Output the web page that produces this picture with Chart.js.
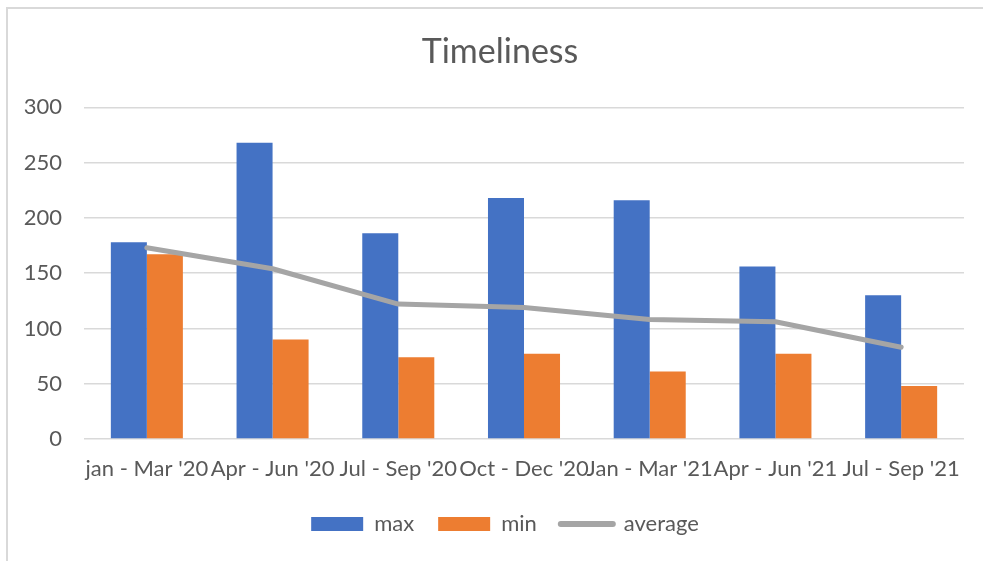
<!DOCTYPE html>
<html>
<head>
<meta charset="utf-8">
<script src="https://cdn.jsdelivr.net/npm/chart.js@4"></script>
<style>
  html, body { margin: 0; padding: 0; background: #fff; }
  #wrap { position: relative; width: 983px; height: 561px; }
</style>
</head>
<body>
<div id="wrap"><canvas id="c" width="983" height="561"></canvas></div>
<script>
const categories = ["jan - Mar '20", "Apr - Jun '20", "Jul - Sep '20", "Oct - Dec '20", "Jan - Mar '21", "Apr - Jun '21", "Jul - Sep '21"];
const maxValues = [178, 268, 186, 218, 216, 156, 130];
const minValues = [167, 90, 74, 77, 61, 77, 48];
const averageValues = [173, 154, 122, 119, 108, 106, 83];
const yTicks = [0, 50, 100, 150, 200, 250, 300];

const TEXT = '#595959';
const FONT = 'Lato, "Open Sans", sans-serif';

const framePlugin = {
  id: 'frame',
  beforeDraw(chart) {
    const ctx = chart.ctx;
    ctx.save();
    ctx.fillStyle = '#fff';
    ctx.fillRect(0, 0, chart.width, chart.height);
    ctx.strokeStyle = '#d9d9d9';
    ctx.lineWidth = 2;
    ctx.beginPath();
    ctx.moveTo(7, chart.height);
    ctx.lineTo(7, 8);
    ctx.lineTo(chart.width, 8);
    ctx.stroke();
    ctx.restore();
  }
};

// Title and legend are centred on the whole (wider, cropped) chart frame in the original
const centerShiftPlugin = {
  id: 'centerShift',
  afterLayout(chart) {
    if (chart.titleBlock) { chart.titleBlock.left = 36; }
    if (chart.legend) { chart.legend.left = 46; }
  }
};

new Chart(document.getElementById('c'), {
  data: {
    labels: categories,
    datasets: [
      { type: 'bar', label: 'max', data: maxValues, backgroundColor: '#4472C4', order: 1,
        categoryPercentage: 0.573, barPercentage: 1.0 },
      { type: 'bar', label: 'min', data: minValues, backgroundColor: '#ED7D31', order: 1,
        categoryPercentage: 0.573, barPercentage: 1.0 },
      { type: 'line', label: 'average', data: averageValues, borderColor: '#A5A5A5', backgroundColor: '#A5A5A5',
        borderWidth: 5, pointRadius: 0, borderCapStyle: 'round', borderJoinStyle: 'round', tension: 0, order: 0 }
    ]
  },
  plugins: [framePlugin, centerShiftPlugin],
  options: {
    responsive: false,
    animation: false,
    devicePixelRatio: 1,
    layout: { padding: { left: 0, right: 19, top: 0, bottom: 16 } },
    plugins: {
      tooltip: { enabled: false },
      title: {
        display: true, text: 'Timeliness', color: TEXT,
        font: { family: FONT, size: 34, weight: 'normal' },
        padding: { top: 32, bottom: 34.5 }
      },
      legend: {
        position: 'bottom',
        labels: {
          color: TEXT,
          font: { family: FONT, size: 22 },
          usePointStyle: true,
          pointStyleWidth: 52,
          boxWidth: 52,
          boxHeight: 14,
          padding: 24,
          sort: (a, b) => a.datasetIndex - b.datasetIndex,
          generateLabels(chart) {
            const items = Chart.defaults.plugins.legend.labels.generateLabels(chart);
            items.forEach(it => {
              const ds = chart.data.datasets[it.datasetIndex];
              if (ds.type === 'line') {
                it.pointStyle = 'line';
                it.lineWidth = 6;
                it.strokeStyle = '#A5A5A5';
                it.lineCap = 'round';
              } else {
                it.pointStyle = 'rect';
                it.lineWidth = 0;
                it.strokeStyle = ds.backgroundColor;
              }
            });
            return items;
          }
        }
      }
    },
    scales: {
      x: {
        afterFit(scale) { scale.height = 50; },
        grid: { display: false, drawTicks: false },
        border: { display: false },
        ticks: { color: TEXT, font: { family: FONT, size: 22 }, padding: 17, maxRotation: 0, autoSkip: false }
      },
      y: {
        min: 0, max: 300,
        afterFit(scale) { scale.width = 84; },
        afterBuildTicks(scale) { scale.ticks = yTicks.map(v => ({ value: v })); },
        grid: { color: '#D9D9D9', lineWidth: 1.5, drawTicks: false },
        border: { display: false },
        ticks: { color: TEXT, font: { family: FONT, size: 22 }, padding: 22 }
      }
    }
  }
});
</script>
</body>
</html>
